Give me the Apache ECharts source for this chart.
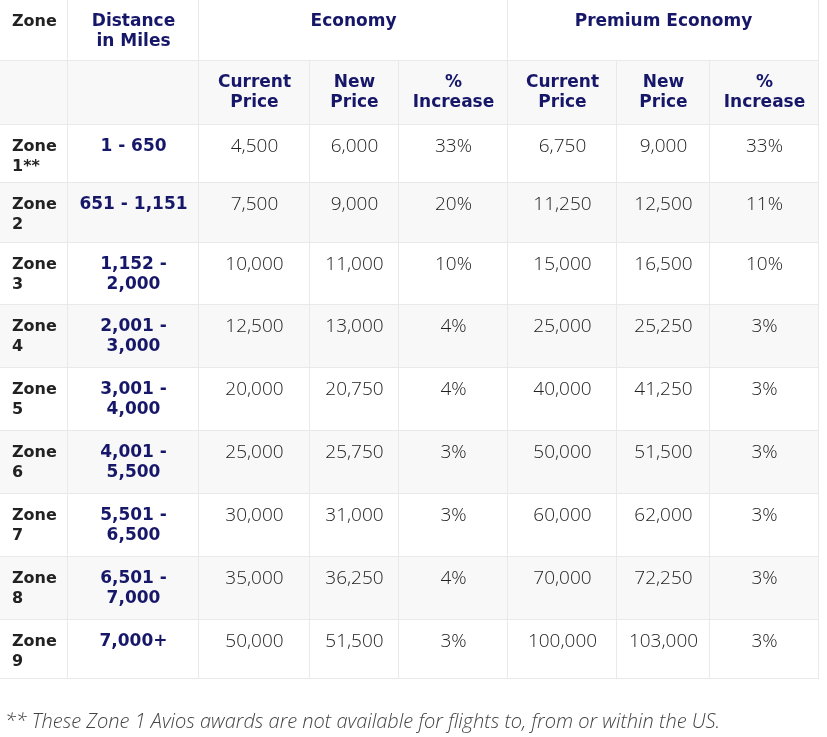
<!DOCTYPE html>
<html>
<head>
<meta charset="utf-8">
<script src="https://cdn.jsdelivr.net/npm/echarts@6/dist/echarts.min.js"></script>
<style>
html,body{margin:0;padding:0;background:#fff;}
#chart{width:827px;height:737px;}
</style>
</head>
<body>
<div id="chart"></div>
<script>
// ---- data ----
const zones = ['Zone\n1**', 'Zone\n2', 'Zone\n3', 'Zone\n4', 'Zone\n5', 'Zone\n6', 'Zone\n7', 'Zone\n8', 'Zone\n9'];
const distances = ['1 - 650', '651 - 1,151', '1,152 -\n2,000', '2,001 -\n3,000', '3,001 -\n4,000', '4,001 -\n5,500', '5,501 -\n6,500', '6,501 -\n7,000', '7,000+'];
const econCurrent = [4500, 7500, 10000, 12500, 20000, 25000, 30000, 35000, 50000];
const econNew = [6000, 9000, 11000, 13000, 20750, 25750, 31000, 36250, 51500];
const econPct = [33, 20, 10, 4, 4, 3, 3, 4, 3];
const premCurrent = [6750, 11250, 15000, 25000, 40000, 50000, 60000, 70000, 100000];
const premNew = [9000, 12500, 16500, 25250, 41250, 51500, 62000, 72250, 103000];
const premPct = [33, 11, 10, 3, 3, 3, 3, 3, 3];
const topHeaders = ['Zone', 'Distance\nin Miles'];
const groupHeaders = ['Economy', 'Premium Economy'];
const subHeaders = ['Current\nPrice', 'New\nPrice', '%\nIncrease'];
const footnote = '** These Zone 1 Avios awards are not available for flights to, from or within the US.';

// ---- layout (not data) ----
const colEdges = [0, 68, 199, 310, 399, 508, 617, 710, 819];
const rowEdges = [0, 61, 125, 183, 243, 305, 368, 431, 494, 557, 620, 679];

const NAVY = '#17176a';
const fmt = v => v.toLocaleString('en-US');
const cells = [];
function addCell(c0, c1, r, text, kind) {
  cells.push({
    value: [colEdges[c0], colEdges[c1], rowEdges[r], rowEdges[r + 1]],
    text: text, kind: kind, bg: (r % 2 === 1) ? '#f8f8f8' : '#ffffff'
  });
}
// header row 1
addCell(0, 1, 0, topHeaders[0], 'zone');
addCell(1, 2, 0, topHeaders[1], 'head');
addCell(2, 5, 0, groupHeaders[0], 'head');
addCell(5, 8, 0, groupHeaders[1], 'head');
// header row 2
addCell(0, 1, 1, '', 'head');
addCell(1, 2, 1, '', 'head');
for (let g = 0; g < 2; g++) {
  for (let k = 0; k < 3; k++) addCell(2 + g * 3 + k, 3 + g * 3 + k, 1, subHeaders[k], 'head');
}
// body
for (let i = 0; i < zones.length; i++) {
  const r = i + 2;
  addCell(0, 1, r, zones[i], 'zone');
  addCell(1, 2, r, distances[i], 'head');
  addCell(2, 3, r, fmt(econCurrent[i]), 'num');
  addCell(3, 4, r, fmt(econNew[i]), 'num');
  addCell(4, 5, r, econPct[i] + '%', 'num');
  addCell(5, 6, r, fmt(premCurrent[i]), 'num');
  addCell(6, 7, r, fmt(premNew[i]), 'num');
  addCell(7, 8, r, premPct[i] + '%', 'num');
}

const chart = echarts.init(document.getElementById('chart'), null, { renderer: 'canvas' });
chart.setOption({
  animation: false,
  backgroundColor: '#ffffff',
  title: {
    text: footnote,
    left: 0, top: 707,
    textStyle: { fontFamily: 'Open Sans', fontStyle: 'italic', fontWeight: 300, fontSize: 20, color: '#444444' }
  },
  grid: { left: 0, top: 0, width: 819, height: 679 },
  xAxis: { type: 'value', min: 0, max: 819, show: false },
  yAxis: { type: 'value', min: 0, max: 679, inverse: true, show: false },
  series: [{
    type: 'custom',
    coordinateSystem: 'cartesian2d',
    encode: { x: [0, 1], y: [2, 3] },
    data: cells,
    renderItem: function (params, api) {
      const cell = cells[params.dataIndex];
      const p0 = api.coord([api.value(0), api.value(2)]);
      const p1 = api.coord([api.value(1), api.value(3)]);
      const x0 = p0[0], y0 = p0[1], x1 = p1[0], y1 = p1[1];
      const border = '#e9e9e9';
      const children = [
        { type: 'rect', shape: { x: x0, y: y0, width: x1 - x0, height: y1 - y0 }, style: { fill: cell.bg } },
        { type: 'line', shape: { x1: x1 - 0.5, y1: y0, x2: x1 - 0.5, y2: y1 }, style: { stroke: border, lineWidth: 1 } },
        { type: 'line', shape: { x1: x0, y1: y1 - 0.5, x2: x1, y2: y1 - 0.5 }, style: { stroke: border, lineWidth: 1 } }
      ];
      let font, fill, tx, align;
      if (cell.kind === 'zone') {
        font = 'bold 16px "DejaVu Sans"'; fill = '#222222'; tx = x0 + 12; align = 'left';
      } else if (cell.kind === 'head') {
        font = 'bold 17px "DejaVu Sans"'; fill = NAVY; tx = (x0 + x1) / 2; align = 'center';
      } else {
        font = '300 19px "Open Sans"'; fill = '#222222'; tx = (x0 + x1) / 2; align = 'center';
      }
      if (cell.text) {
        children.push({
          type: 'text',
          style: { text: cell.text, x: tx, y: y0 + 12, textAlign: align, textVerticalAlign: 'top', font: font, fill: fill, lineHeight: 20 }
        });
      }
      return { type: 'group', children: children };
    }
  }]
});
</script>
</body>
</html>
